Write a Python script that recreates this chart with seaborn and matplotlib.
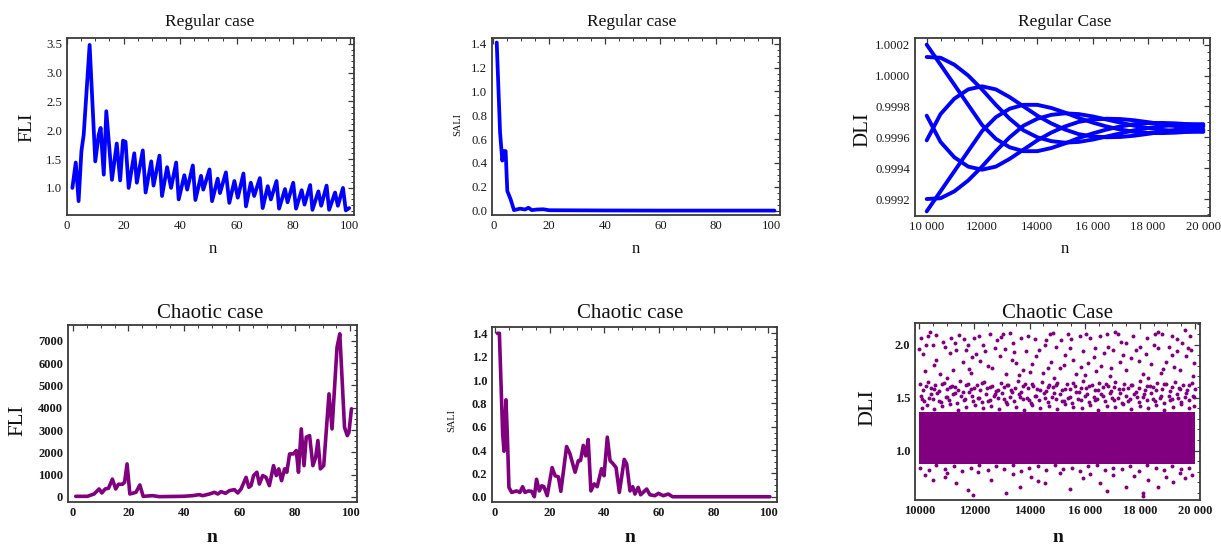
import numpy as np
import pandas as pd
import matplotlib
matplotlib.use("Agg")
import matplotlib.pyplot as plt
import seaborn as sns
from matplotlib.ticker import MultipleLocator, FixedLocator

# ---------------- data ----------------
# Regular case FLI
fli_reg_n = [1.9, 3.1, 4.1, 5.1, 5.9, 8.0, 10.0, 11.2, 11.9, 13.0, 13.9, 15.9, 17.6, 18.8, 19.8, 20.7,
             21.8, 23.8, 24.7, 26.8, 27.8, 29.8, 30.6, 32.7, 33.6, 35.4, 36.8, 38.6, 39.5, 41.5, 42.5,
             44.5, 45.4, 47.4, 48.2, 50.4, 51.3, 53.3, 54.1, 56.2, 57.4, 59.2, 60.4, 62.4, 63.3, 65.0,
             66.2, 68.2, 69.2, 71.0, 72.1, 74.1, 75.0, 77.1, 78.0, 80.0, 81.0, 83.0, 84.0, 86.0, 86.8,
             88.9, 89.9, 91.8, 92.7, 94.8, 95.8, 97.6, 98.6, 99.8]
fli_reg_val = [1.00, 1.44, 0.77, 1.64, 1.92, 3.48, 1.46, 1.92, 2.04, 1.23, 2.33, 1.14, 1.77, 1.13, 1.82, 1.80,
               1.00, 1.60, 1.09, 1.65, 0.92, 1.46, 1.04, 1.56, 0.86, 1.36, 1.00, 1.44, 0.80, 1.22, 0.97,
               1.39, 0.79, 1.21, 0.97, 1.32, 0.77, 1.16, 0.91, 1.27, 0.74, 1.12, 0.83, 1.25, 0.68, 1.09,
               0.86, 1.17, 0.65, 1.03, 0.80, 1.12, 0.64, 0.98, 0.75, 1.09, 0.64, 0.96, 0.71, 1.05, 0.62,
               0.94, 0.69, 1.04, 0.62, 0.92, 0.69, 1.00, 0.61, 0.65]

# Regular case SALI
sali_reg_n = [1.2, 2.4, 3.2, 3.8, 4.4, 5.0, 6.2, 7.4, 9.6, 11.4, 12.6, 13.8, 15.6, 18.0, 20.0, 40.0, 60.0, 80.0, 101.0]
sali_reg_val = [1.41, 0.655, 0.42, 0.50, 0.50, 0.165, 0.095, 0.005, 0.017, 0.010, 0.025, 0.005, 0.010,
                0.012, 0.004, 0.002, 0.001, 0.001, 0.001]

# Regular case DLI: six branches sampled every 500 iterations
dli_reg_n = [10000, 10500, 11000, 11500, 12000, 12500, 13000, 13500, 14000, 14500, 15000,
             15500, 16000, 16500, 17000, 17500, 18000, 18500, 19000, 19500, 20000]
dli_branch_1 = [1.00020, 1.00007, 0.99994, 0.99981, 0.99968, 0.99959, 0.999535, 0.99951, 0.99951, 0.99953,
                0.99956, 0.999595, 0.999625, 0.99965, 0.99967, 0.999685, 0.999692, 0.999693, 0.99969, 0.999684, 0.999677]
dli_branch_2 = [1.00012, 1.000115, 1.00007, 1.00000, 0.99991, 0.99981, 0.99972, 0.999645, 0.99960, 0.999575,
                0.999565, 0.99957, 0.999585, 0.999605, 0.999625, 0.999645, 0.99966, 0.999672, 0.99968, 0.999684, 0.999685]
dli_branch_3 = [0.99958, 0.99975, 0.99985, 0.99991, 0.99993, 0.99991, 0.99986, 0.99980, 0.99974, 0.99969,
                0.99965, 0.99962, 0.999605, 0.99960, 0.999602, 0.99961, 0.999622, 0.999635, 0.999648, 0.99966, 0.99967]
dli_branch_4 = [0.99974, 0.99957, 0.99947, 0.99941, 0.99939, 0.99941, 0.99946, 0.99952, 0.99958, 0.99963,
                0.99967, 0.99970, 0.999715, 0.99972, 0.999718, 0.99971, 0.999698, 0.999685, 0.999672, 0.99966, 0.99965]
dli_branch_5 = [0.99920, 0.999205, 0.99925, 0.99932, 0.99941, 0.99951, 0.99960, 0.999675, 0.99972, 0.999745,
                0.999755, 0.99975, 0.999735, 0.999715, 0.999695, 0.999675, 0.99966, 0.999648, 0.99964, 0.999636, 0.999635]
dli_branch_6 = [0.99912, 0.99925, 0.99938, 0.99951, 0.99964, 0.99973, 0.999785, 0.99981, 0.99981, 0.99979,
                0.99976, 0.999725, 0.999695, 0.99967, 0.99965, 0.999635, 0.999628, 0.999627, 0.99963, 0.999636, 0.999643]

# Chaotic case FLI
fli_ch_n = [1.0, 5.2, 7.6, 9.4, 10.4, 11.6, 12.8, 14.2, 15.4, 16.4, 17.8, 18.6, 19.5, 20.5, 22.7, 24.1, 25.3,
            28.7, 31.1, 39.5, 43.1, 45.5, 46.8, 49.2, 51.0, 52.2, 53.4, 55.0, 56.4, 58.2, 59.4, 60.6, 62.4,
            63.4, 64.2, 65.1, 66.3, 67.2, 68.4, 69.6, 70.8, 72.3, 73.3, 74.2, 75.2, 76.3, 77.1, 78.1, 79.5,
            80.5, 81.3, 82.3, 83.3, 84.1, 85.3, 86.5, 87.5, 88.3, 89.2, 90.4, 92.3, 93.4, 95.2, 96.2, 97.9,
            98.9, 99.5, 100.4]
fli_ch_val = [30, 30, 135, 360, 180, 360, 390, 800, 360, 570, 570, 660, 1480, 135, 210, 540, 30,
              60, 15, 30, 60, 105, 60, 135, 210, 135, 240, 165, 285, 330, 180, 360, 880,
              435, 510, 960, 1110, 580, 960, 880, 510, 1405, 960, 1260, 730, 1260, 1110, 1930, 1930,
              2080, 1110, 3050, 1405, 2680, 2750, 1405, 1780, 2530, 1260, 1405, 4620, 3050, 6710, 7310, 3120,
              2750, 2900, 3950]

# Chaotic case SALI
sali_ch_n = [0.9, 1.6, 2.8, 3.3, 4.0, 4.5, 5.1, 6.1, 7.9, 9.1, 10.1, 11.0, 12.2, 13.4, 14.4, 15.2, 16.2,
             17.1, 17.9, 19.1, 20.9, 22.0, 23.2, 24.1, 26.2, 27.4, 29.3, 30.5, 31.3, 32.3, 33.2, 34.1, 35.1,
             36.3, 37.4, 39.0, 39.9, 41.1, 42.1, 43.3, 44.3, 45.5, 47.3, 48.2, 49.4, 50.4, 51.2, 52.4, 53.3,
             55.5, 56.7, 58.5, 59.8, 61.6, 63.4, 65.0, 100.6]
sali_ch_val = [1.40, 1.40, 0.54, 0.39, 0.83, 0.54, 0.08, 0.037, 0.05, 0.037, 0.086, 0.037, 0.05, 0.046, 0.0, 0.15, 0.05,
               0.094, 0.086, 0.009, 0.25, 0.18, 0.17, 0.046, 0.43, 0.37, 0.21, 0.31, 0.31, 0.44, 0.35, 0.49, 0.05,
               0.11, 0.086, 0.24, 0.18, 0.51, 0.31, 0.28, 0.25, 0.037, 0.32, 0.28, 0.05, 0.086, 0.023, 0.08, 0.017,
               0.066, 0.017, 0.009, 0.029, 0.009, 0.023, 0.0, 0.0]

# Chaotic case DLI: densely filled core (edges) and resolved points
core_n = [10000, 20000]
core_low = [0.87, 0.87]
core_high = [1.36, 1.36]

top_n = [10070, 10310, 11150, 11630, 12000, 12180, 12550, 13040, 13280, 13700, 14180, 14730, 14850, 15400, 15820,
         16060, 16550, 16790, 17210, 17750, 18240, 18540, 18790, 19150, 19630,
         10250, 10500, 10920, 11340, 11770, 12310, 12730, 13400, 13880, 14550, 14970, 15450, 16360, 17030, 17510,
         18000, 18660, 19330, 19510, 19870,
         10130, 10620, 11100, 11580, 12060, 12910, 13520, 14240, 14790, 15570, 16110, 16700, 17270, 17690, 18230,
         18950, 19690,
         10190, 10740, 11220, 11890, 12490, 13160, 13760, 14480, 15090, 15690, 16420, 16910, 17510, 18120, 18780,
         19450, 19940,
         10400, 10850, 11450, 11900, 12400, 12650, 13100, 13350, 13950, 14100, 14350, 14650, 15150, 15300, 15950,
         16200, 16600, 17100, 17400, 17850, 18400, 18500, 19050, 19250, 19800, 10550, 11000, 11700, 12800, 13600,
         14900, 15850, 16850, 18300, 19150, 19950,
         10600, 11300, 11800, 12200, 12950, 13450, 14000, 14600, 15250, 15500, 16000, 16350, 16950, 17300, 17950,
         18650, 18850, 19350, 19750, 10000]
top_v = [2.06, 2.08, 2.06, 2.05, 2.06, 2.08, 2.10, 2.10, 2.11, 2.06, 2.05, 2.10, 2.11, 2.10, 2.08,
         2.10, 2.08, 2.10, 2.10, 2.08, 2.06, 2.10, 2.10, 2.08, 2.14,
         2.00, 2.00, 1.98, 1.95, 2.00, 2.00, 1.97, 2.02, 1.94, 2.00, 1.98, 1.97, 1.97, 1.95, 2.02,
         1.98, 1.97, 1.94, 2.02, 1.95,
         1.91, 1.86, 1.92, 1.84, 1.91, 1.89, 1.83, 1.89, 1.84, 1.86, 1.83, 1.92, 1.84, 1.87, 1.91,
         1.84, 1.89,
         1.75, 1.72, 1.76, 1.73, 1.80, 1.72, 1.76, 1.73, 1.78, 1.72, 1.75, 1.70, 1.76, 1.72, 1.73,
         1.76, 1.70,
         2.12, 2.03, 2.09, 1.88, 1.94, 1.78, 1.96, 1.86, 2.08, 1.82, 1.95, 1.78, 2.04, 1.90, 1.94,
         2.06, 1.80, 2.12, 1.90, 1.95, 1.82, 2.00, 1.98, 1.79, 2.08, 1.81, 1.69, 1.95, 2.04, 1.71,
         1.69, 1.79, 1.98, 1.69, 1.90, 1.83,
         2.09, 2.02, 1.77, 1.85, 2.07, 1.93, 1.74, 2.04, 1.81, 2.05, 1.71, 1.88, 1.78, 2.03, 1.85,
         2.12, 1.77, 2.05, 1.97, 1.96]

mid_n = [10020, 10310, 10580, 10900, 11170, 11480, 11760, 12090, 12330, 12640, 12980, 13210, 13570, 13840, 14120,
         14460, 14720, 15010, 15340, 15630, 15920, 16270, 16510, 16830, 17090, 17420, 17730, 18010, 18370, 18620,
         18940, 19260, 19570, 19880,
         10130, 10420, 10730, 11020, 11310, 11590, 11880, 12200, 12470, 12790, 13080, 13340, 13690, 13960, 14280,
         14590, 14860, 15180, 15470, 15780, 16060, 16390, 16680, 16960, 17260, 17570, 17860, 18180, 18490, 18790,
         19110, 19410, 19720, 19990,
         10060, 10360, 10650, 10960, 11240, 11530, 11820, 12140, 12410, 12720, 13010, 13290, 13620, 13900, 14200,
         14520, 14800, 15100, 15400, 15700, 16000, 16320, 16600, 16900, 17200, 17500, 17800, 18100, 18420, 18720,
         19040, 19340, 19650, 19930,
         10180, 10480, 10790, 11080, 11370, 11660, 11950, 12260, 12550, 12850, 13140, 13440, 13750, 14040, 14340,
         14650, 14950, 15250, 15550, 15850, 16150, 16450, 16750, 17050, 17350, 17650, 17950, 18250, 18560, 18860,
         19170, 19480, 19780,
         10090, 10270, 10540, 10840, 11130, 11420, 11710, 12010, 12300, 12590, 12900, 13180, 13490, 13790, 14080,
         14390, 14690, 14990, 15290, 15590, 15890, 16190, 16490, 16790, 17090, 17390, 17690, 17990, 18290, 18590,
         18890, 19190, 19490, 19790, 19960,
         10230, 10530, 10810, 11110, 11400, 11700, 12000, 12280, 12570, 12870, 13170, 13470, 13770, 14070, 14370,
         14670, 14970, 15270, 15570, 15870, 16170, 16470, 16770, 17070, 17370, 17670, 17970, 18270, 18570, 18870,
         19170, 19470, 19770,
         10110, 10440, 10700, 11010, 11290, 11610, 11910, 12180, 12500, 12760, 13060, 13360, 13660, 13980, 14250,
         14560, 14880, 15160, 15470, 15760, 16080, 16360, 16660, 16980, 17280, 17560, 17880, 18160, 18460, 18780,
         19080, 19380, 19680, 19950]
mid_v = [1.63, 1.65, 1.62, 1.64, 1.61, 1.66, 1.63, 1.62, 1.65, 1.61, 1.64, 1.62, 1.66, 1.63, 1.61,
         1.65, 1.62, 1.64, 1.63, 1.61, 1.66, 1.62, 1.64, 1.61, 1.65, 1.63, 1.62, 1.66, 1.61, 1.64,
         1.63, 1.65, 1.62, 1.64,
         1.57, 1.59, 1.56, 1.58, 1.60, 1.55, 1.58, 1.57, 1.59, 1.56, 1.60, 1.57, 1.55, 1.59, 1.58,
         1.56, 1.60, 1.57, 1.58, 1.55, 1.59, 1.57, 1.60, 1.56, 1.58, 1.59, 1.55, 1.57, 1.60, 1.58,
         1.56, 1.59, 1.57, 1.58,
         1.52, 1.50, 1.54, 1.51, 1.53, 1.52, 1.55, 1.50, 1.53, 1.52, 1.54, 1.51, 1.53, 1.50, 1.52,
         1.54, 1.51, 1.53, 1.50, 1.55, 1.52, 1.51, 1.53, 1.54, 1.50, 1.52, 1.53, 1.51, 1.54, 1.50,
         1.52, 1.53, 1.51, 1.52,
         1.47, 1.49, 1.46, 1.48, 1.45, 1.49, 1.47, 1.46, 1.48, 1.50, 1.46, 1.47, 1.49, 1.45, 1.48,
         1.46, 1.49, 1.47, 1.45, 1.48, 1.46, 1.49, 1.47, 1.48, 1.45, 1.49, 1.46, 1.48, 1.47, 1.45,
         1.49, 1.46, 1.48,
         1.40, 1.43, 1.39, 1.42, 1.44, 1.38, 1.41, 1.43, 1.40, 1.42, 1.39, 1.44, 1.41, 1.38, 1.43,
         1.40, 1.42, 1.39, 1.44, 1.41, 1.40, 1.43, 1.38, 1.42, 1.41, 1.44, 1.39, 1.42, 1.40, 1.43,
         1.38, 1.41, 1.44, 1.40, 1.42,
         1.61, 1.58, 1.63, 1.60, 1.57, 1.62, 1.59, 1.64, 1.60, 1.57, 1.62, 1.59, 1.61, 1.63, 1.57,
         1.60, 1.62, 1.58, 1.64, 1.59, 1.61, 1.57, 1.63, 1.60, 1.58, 1.62, 1.59, 1.61, 1.57, 1.63,
         1.60, 1.58, 1.62,
         1.49, 1.53, 1.47, 1.51, 1.54, 1.48, 1.52, 1.50, 1.47, 1.53, 1.49, 1.55, 1.51, 1.48, 1.52,
         1.50, 1.54, 1.47, 1.51, 1.49, 1.53, 1.48, 1.52, 1.50, 1.54, 1.47, 1.51, 1.53, 1.49, 1.52,
         1.48, 1.50, 1.54, 1.51]

low_n = [10040, 10350, 10620, 10950, 11250, 11560, 11870, 12160, 12480, 12770, 13070, 13380, 13680, 13990, 14300,
         14610, 14910, 15220, 15520, 15830, 16130, 16440, 16740, 17040, 17350, 17650, 17960, 18260, 18570, 18870,
         19180, 19480, 19790,
         10496, 10919, 11342, 11765, 12128, 12612, 13156, 13640, 14065, 14548, 15090, 15453, 15937, 16540, 17025,
         17508, 18113, 18294, 18657, 18960, 19444, 19625, 11946, 10200, 11000, 13400, 14300, 16200, 16800, 17800,
         18100, 19200, 19900]
low_v = [0.84, 0.82, 0.86, 0.83, 0.85, 0.81, 0.84, 0.86, 0.82, 0.85, 0.83, 0.86, 0.81, 0.84, 0.85,
         0.82, 0.86, 0.83, 0.84, 0.81, 0.85, 0.86, 0.82, 0.84, 0.83, 0.85, 0.81, 0.86, 0.84, 0.82,
         0.85, 0.83, 0.84,
         0.72, 0.75, 0.69, 0.63, 0.80, 0.72, 0.60, 0.66, 0.75, 0.69, 0.79, 0.64, 0.74, 0.69, 0.77,
         0.66, 0.60, 0.72, 0.66, 0.75, 0.79, 0.74, 0.58, 0.77, 0.79, 0.78, 0.71, 0.78, 0.62, 0.76,
         0.57, 0.70, 0.77]

# ---------------- style ----------------
sns.set_theme(style="white")
plt.rcParams['font.family'] = ['Liberation Serif', 'DejaVu Serif']
plt.rcParams['axes.edgecolor'] = '#3a3a3a'
plt.rcParams['axes.linewidth'] = 1.3

BLUE = '#0000ff'
PURPLE = '#800080'
W, H = 1221, 546
fig = plt.figure(figsize=(W / 100, H / 100), dpi=100)


def add_axes(l, t, r, b):
    return fig.add_axes([l / W, 1 - b / H, (r - l) / W, (b - t) / H])


def style(ax, xmaj, xmin, ymaj, ymin, size=9.2, weight='normal'):
    ax.xaxis.set_major_locator(MultipleLocator(xmaj))
    ax.xaxis.set_minor_locator(MultipleLocator(xmin))
    ax.yaxis.set_major_locator(MultipleLocator(ymaj))
    ax.yaxis.set_minor_locator(MultipleLocator(ymin))
    ax.tick_params(which='both', direction='in', top=True, right=True, color='#3a3a3a')
    ax.tick_params(which='major', length=4, width=0.9, labelsize=size, pad=3.5, labelcolor='#1a1a1a')
    ax.tick_params(which='minor', length=2, width=0.7)
    ax.set_xlabel('')
    ax.set_ylabel('')
    ax.grid(False)


def bold_ticks(ax):
    for lab in ax.get_xticklabels() + ax.get_yticklabels():
        lab.set_fontweight('bold')


def ftext(x, y, s, size, rot=0, weight='normal'):
    fig.text(x / W, 1 - y / H, s, fontsize=size, rotation=rot, ha='center', va='center',
             fontweight=weight, color='#111111')


# Top-left: regular FLI
ax1 = add_axes(67, 38, 354, 215)
sns.lineplot(x=fli_reg_n, y=fli_reg_val, ax=ax1, color=BLUE, lw=2.7, sort=False, estimator=None)
ax1.set_xlim(0, 101.5)
ax1.set_ylim(0.53, 3.6)
style(ax1, 20, 5, 0.5, 0.1)
ftext(210, 22, 'Regular case', 12.5)
ftext(213, 249, 'n', 12)
ftext(27, 127, 'FLI', 14, rot=90)

# Top-middle: regular SALI
ax2 = add_axes(492, 38, 780, 215)
sns.lineplot(x=sali_reg_n, y=sali_reg_val, ax=ax2, color=BLUE, lw=2.7, sort=False, estimator=None)
ax2.set_xlim(-0.5, 103)
ax2.set_ylim(-0.036, 1.448)
style(ax2, 20, 5, 0.2, 0.05)
ftext(632, 22, 'Regular case', 12.5)
ftext(636, 249, 'n', 12)
ftext(458, 125, 'SALI', 7.5, rot=90)

# Top-right: regular DLI
ax3 = add_axes(915, 38, 1210, 216)
dli_df = pd.DataFrame({
    'n': dli_reg_n * 6,
    'DLI': dli_branch_1 + dli_branch_2 + dli_branch_3 + dli_branch_4 + dli_branch_5 + dli_branch_6,
    'branch': np.repeat(np.arange(6), len(dli_reg_n)),
})
sns.lineplot(data=dli_df, x='n', y='DLI', units='branch', estimator=None, ax=ax3, color=BLUE, lw=2.8)
ax3.set_xlim(9577, 20242)
ax3.set_ylim(0.99909, 1.000243)
style(ax3, 2000, 500, 0.0002, 0.00005)
ax3.xaxis.set_major_locator(FixedLocator([10000, 12000, 14000, 16000, 18000, 20000]))
ax3.set_xticklabels(['10 000', '12000', '14000', '16 000', '18 000', '20 000'])
ax3.yaxis.set_major_locator(FixedLocator([0.9992, 0.9994, 0.9996, 0.9998, 1.0000, 1.0002]))
ax3.set_yticklabels(['0.9992', '0.9994', '0.9996', '0.9998', '1.0000', '1.0002'])
ftext(1065, 22, 'Regular Case', 12.5)
ftext(1065, 249, 'n', 12)
ftext(863, 130, 'DLI', 15, rot=90)

# Bottom-left: chaotic FLI
ax4 = add_axes(68, 325, 357, 502)
sns.lineplot(x=fli_ch_n, y=fli_ch_val, ax=ax4, color=PURPLE, lw=2.6, sort=False, estimator=None)
ax4.set_xlim(-1.8, 102.4)
ax4.set_ylim(-224, 7704)
style(ax4, 20, 5, 1000, 250, size=9)
bold_ticks(ax4)
ftext(210, 314, 'Chaotic case', 15)
ftext(212, 537, 'n', 14, weight='bold')
ftext(18, 420, 'FLI', 15, rot=90)

# Bottom-middle: chaotic SALI
ax5 = add_axes(492, 327, 777, 502)
sns.lineplot(x=sali_ch_n, y=sali_ch_val, ax=ax5, color=PURPLE, lw=2.6, sort=False, estimator=None)
ax5.set_xlim(-1.1, 103.2)
ax5.set_ylim(-0.045, 1.454)
style(ax5, 20, 5, 0.2, 0.05, size=9)
bold_ticks(ax5)
ftext(630, 314, 'Chaotic case', 15)
ftext(630, 537, 'n', 14, weight='bold')
ftext(452, 420, 'SALI', 7.5, rot=90)

# Bottom-right: chaotic DLI
ax6 = add_axes(915, 323, 1200, 500)
ax6.fill_between(core_n, core_low, core_high, color=PURPLE, lw=0)
pts = pd.DataFrame({'n': top_n + mid_n + low_n, 'DLI': top_v + mid_v + low_v})
sns.scatterplot(data=pts, x='n', y='DLI', ax=ax6, color=PURPLE, s=8, linewidth=0)
ax6.set_xlim(9844, 20180)
ax6.set_ylim(0.533, 2.205)
style(ax6, 2000, 500, 0.5, 0.1, size=9)
ax6.xaxis.set_major_locator(FixedLocator([10000, 12000, 14000, 16000, 18000, 20000]))
ax6.set_xticklabels(['10000', '12000', '14000', '16 000', '18 000', '20 000'])
bold_ticks(ax6)
ftext(1057, 314, 'Chaotic Case', 15)
ftext(1058, 537, 'n', 14, weight='bold')
ftext(868, 408, 'DLI', 16, rot=90)

fig.savefig('out.png', dpi=100)
